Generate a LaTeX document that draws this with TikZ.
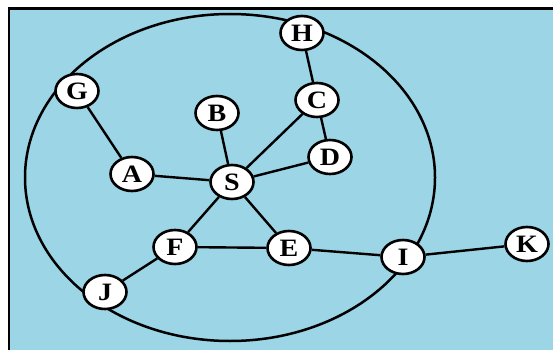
\documentclass[tikz,border=0pt]{standalone}
\usepackage{fontspec}
\usepackage{graphicx}
\setmainfont{Liberation Serif}
\usetikzlibrary{shapes.geometric}
\definecolor{bg}{RGB}{155,213,230}
\begin{document}
\begin{tikzpicture}[x=1pt,y=-1pt,
  vtx/.style={ellipse, draw=black, line width=2.6pt, fill=white,
    minimum width=43pt, minimum height=34pt, inner sep=0pt,
    font=\fontsize{25}{25}\selectfont\bfseries},
  edge/.style={line width=2.4pt}]
\fill[white] (0,0) rectangle (553,350);
\useasboundingbox (0,0) rectangle (553,350);
\fill[bg] (8,8) rectangle (553,350);
\draw[line width=2.5pt] (9,350) -- (9,8.5) -- (553,8.5);
\draw[line width=2.5pt] (230,177.5) ellipse [x radius=205, y radius=163.5];
\node[vtx] (H) at (302,33) {\scalebox{1.12}[1]{H}};
\node[vtx] (C) at (317,100) {\scalebox{1.12}[1]{C}};
\node[vtx] (D) at (330,157) {\scalebox{1.12}[1]{D}};
\node[vtx] (G) at (77,91) {\scalebox{1.12}[1]{G}};
\node[vtx] (B) at (217,113) {\scalebox{1.12}[1]{B}};
\node[vtx] (A) at (132,174) {\scalebox{1.12}[1]{A}};
\node[vtx] (S) at (232,182) {\scalebox{1.12}[1]{S}};
\node[vtx] (F) at (175,247) {\scalebox{1.12}[1]{F}};
\node[vtx] (J) at (105,292) {\scalebox{1.12}[1]{J}};
\node[vtx] (E) at (289,248) {\scalebox{1.12}[1]{E}};
\node[vtx] (I) at (403,257) {\scalebox{1.12}[1]{I}};
\node[vtx] (K) at (527,244) {\scalebox{1.12}[1]{K}};
\draw[edge] (G) -- (A);
\draw[edge] (A) -- (S);
\draw[edge] (B) -- (S);
\draw[edge] (S) -- (C);
\draw[edge] (S) -- (D);
\draw[edge] (H) -- (C);
\draw[edge] (C) -- (D);
\draw[edge] (S) -- (F);
\draw[edge] (S) -- (E);
\draw[edge] (F) -- (E);
\draw[edge] (F) -- (J);
\draw[edge] (E) -- (I);
\draw[edge] (I) -- (K);
\end{tikzpicture}
\end{document}
